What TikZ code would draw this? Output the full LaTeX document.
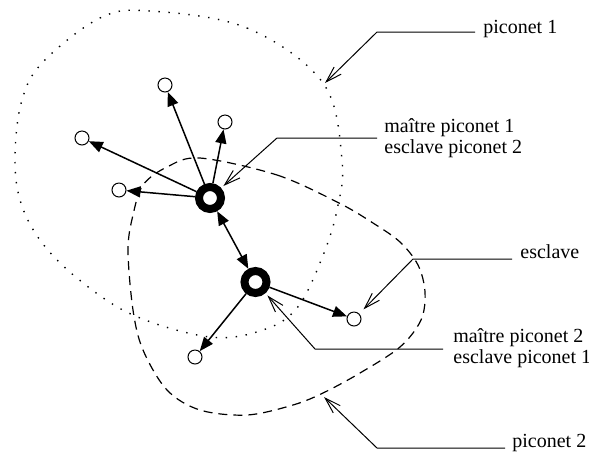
\documentclass[tikz,border=0pt]{standalone}
\usepackage{fontspec}
\setmainfont{Liberation Serif}
\usetikzlibrary{arrows.meta}
\begin{document}
\begin{tikzpicture}[x=0.5pt,y=-0.5pt,
 master/.style={circle,draw,line width=4pt,inner sep=0pt,minimum size=11pt,fill=white},
 slave/.style={circle,draw,line width=0.5pt,inner sep=0pt,minimum size=7pt,fill=white},
 link/.style={line width=0.75pt,-{Triangle[length=7pt,width=5.5pt]}},
 biglink/.style={line width=0.75pt,{Triangle[length=7pt,width=5.5pt]}-{Triangle[length=7pt,width=5.5pt]}},
 callout/.style={line width=0.5pt,-{Straight Barb[length=8pt,width=5pt]}},
 lbl/.style={anchor=base west,inner sep=0pt,font=\fontsize{10}{11}\selectfont},
 dotcurve/.style={line width=0.7pt,dash pattern=on 0.7pt off 4.3pt},
 dashcurve/.style={line width=0.6pt,dash pattern=on 4.5pt off 3pt}]
\useasboundingbox (0,0) rectangle (589,452);
% piconet 1 (dotted)
\draw[dotcurve] plot[smooth cycle,tension=0.6] coordinates {
 (150,11) (247,28) (323,83) (342,160) (337,210) (322,258) (297,308) (263,330)
 (210,337) (133,315) (77,278) (40,240) (20,200) (15,155) (22,100) (43,62) (100,18)};
% piconet 2 (dashed)
\draw[dashcurve] plot[smooth cycle,tension=0.55] coordinates {
 (200,158) (277,175) (339,203) (373,223) (400,242) (418,265) (425,292) (421,320)
 (400,347) (360,373) (323,393) (293,405) (247,415) (200,410) (167,390) (143,350)
 (133,310) (128,250) (133,215) (143,185) (167,167)};
% nodes
\node[master] (m1) at (210,198) {};
\node[master] (m2) at (255.5,282) {};
\node[slave] (s1) at (165,85) {};
\node[slave] (s2) at (225,122) {};
\node[slave] (s3) at (82,138) {};
\node[slave] (s4) at (119,190) {};
\node[slave] (s5) at (354,319) {};
\node[slave] (s6) at (195,357) {};
% links
\draw[link] (m1) -- (s1);
\draw[link] (m1) -- (s2);
\draw[link] (m1) -- (s3);
\draw[link] (m1) -- (s4);
\draw[biglink] (m1) -- (m2);
\draw[link] (m2) -- (s5);
\draw[link] (m2) -- (s6);
% labels
\node[lbl] (t1) at (483,33) {piconet 1};
\node[lbl] (t2a) at (384,132) {maître piconet 1};
\node[lbl] (t2b) at (384,153) {esclave piconet 2};
\node[lbl] (t3) at (520,258) {esclave};
\node[lbl] (t4a) at (453,342) {maître piconet 2};
\node[lbl] (t4b) at (453,363) {esclave piconet 1};
\node[lbl] (t5) at (512,447) {piconet 2};
% callouts
\coordinate (p1a) at (475,32); \coordinate (p1b) at (377,32); \coordinate (p1t) at (325,83);
\draw[callout] (p1a) -- (p1b) -- (p1t);
\coordinate (p2a) at (377,138); \coordinate (p2b) at (277,138);
\draw[callout,shorten >=1.5pt] (p2a) -- (p2b) -- (m1);
\coordinate (p3a) at (512,259); \coordinate (p3b) at (413,259);
\draw[callout,shorten >=3pt] (p3a) -- (p3b) -- (s5);
\coordinate (p4a) at (443,349); \coordinate (p4b) at (315,349);
\draw[callout,shorten >=1.5pt] (p4a) -- (p4b) -- (m2);
\coordinate (p5a) at (505,448); \coordinate (p5b) at (377,448); \coordinate (p5t) at (324,397);
\draw[callout] (p5a) -- (p5b) -- (p5t);
\end{tikzpicture}
\end{document}
